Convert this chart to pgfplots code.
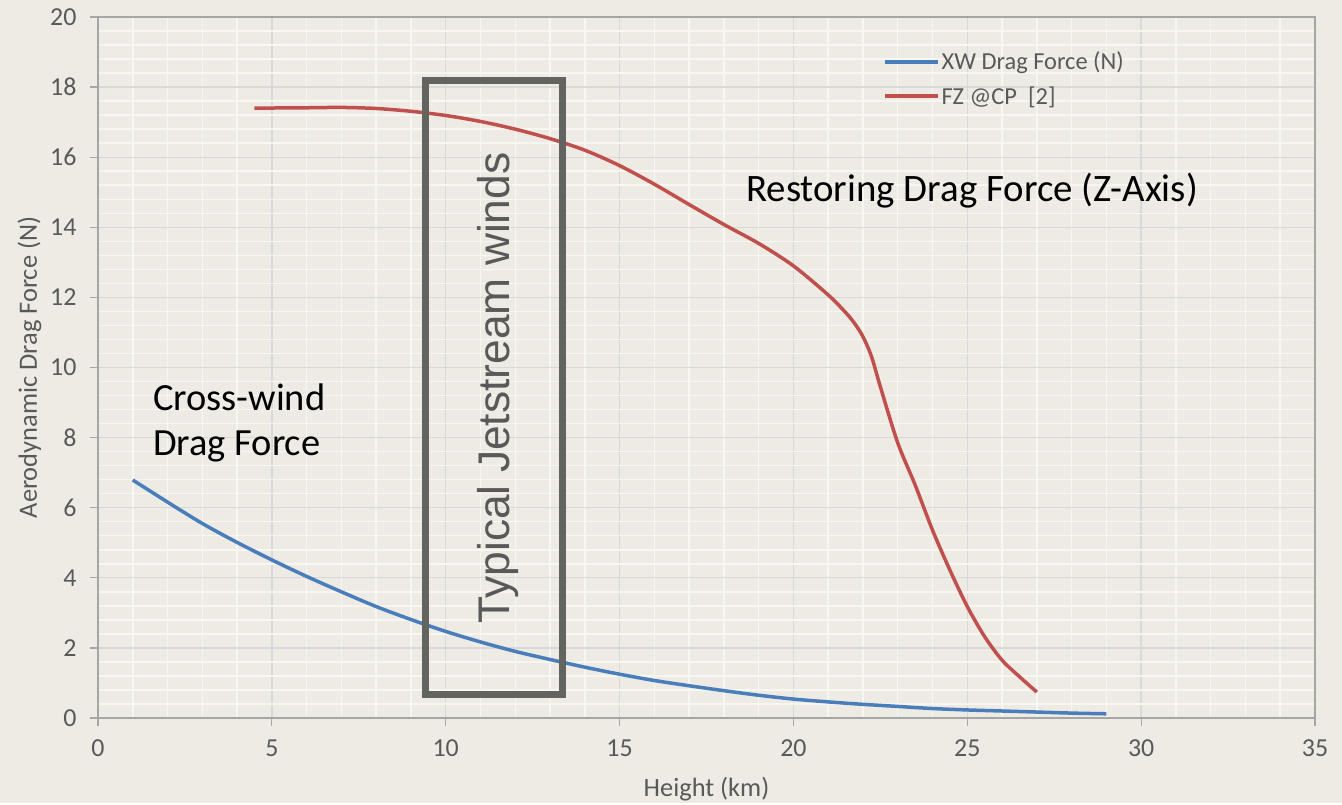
\documentclass[border=0pt]{standalone}
\usepackage{fontspec}
\setmainfont{Carlito}
\newfontfamily\arialf{Liberation Sans}
\usepackage{pgfplots}
\pgfplotsset{compat=1.18}
\definecolor{bgc}{HTML}{EEEBE4}
\definecolor{gridmaj}{HTML}{D9D9D9}
\definecolor{gridmin}{HTML}{F8F6F1}
\definecolor{axisc}{HTML}{A6A6A6}
\definecolor{tickc}{HTML}{595959}
\definecolor{xwblue}{HTML}{4A7EBB}
\definecolor{fzred}{HTML}{C0504D}
\definecolor{boxc}{HTML}{63635F}
\begin{document}
\begin{tikzpicture}
\fill[bgc] (-98bp,-85bp) rectangle (1244bp,718bp);
\begin{axis}[
  scale only axis,
  width=1217bp, height=701bp,
  xmin=0, xmax=35, ymin=0, ymax=20,
  xtick={0,5,...,35}, ytick={0,2,...,20},
  minor x tick num=4, minor y tick num=4,
  grid=both,
  major grid style={color=gridmaj, line width=1.3bp},
  minor grid style={color=gridmin, line width=1.5bp},
  axis line style={color=axisc, line width=1.5bp},
  tick pos=left,
  tick align=outside,
  major tick length=8bp, minor tick length=0pt,
  major tick style={color=axisc, line width=1.2bp},
  ticklabel style={font=\fontsize{26}{30}\selectfont, text=tickc},
  xticklabel style={yshift=-10bp},
  yticklabel style={xshift=-10bp},
  /pgf/number format/assume math mode=true,
  xlabel={Height (km)}, ylabel={Aerodynamic Drag Force (N)},
  label style={font=\fontsize{26.5}{30}\selectfont, text=tickc},
  xlabel style={yshift=-14bp},
  ylabel style={yshift=2bp},
  legend style={at={(0.645,0.953)}, anchor=north west, draw=none, fill=none,
    font=\fontsize{24.5}{29}\selectfont, text=tickc, row sep=11bp, inner sep=0pt},
  legend cell align=left,
  legend image code/.code={\draw[#1] (0bp,0bp) -- (53bp,0bp);},
  axis background/.style={fill=bgc},
]
\addplot[xwblue, line width=3.5bp, smooth] coordinates {
(1,6.79) (2,6.16) (3,5.55) (4,5.01) (5,4.51) (6,4.04) (7,3.6) (8,3.18) (9,2.81) (10,2.47)
(11,2.17) (12,1.9) (13,1.67) (14,1.45) (15,1.25) (16,1.07) (17,0.92) (18,0.78) (19,0.65)
(20,0.54) (21,0.46) (22,0.39) (23,0.33) (24,0.27) (25,0.23) (26,0.2) (27,0.17) (28,0.14) (29,0.12)
};
\addlegendentry{XW Drag Force (N)}
\addplot[fzred, line width=3.5bp, smooth] coordinates {
(4.5,17.4) (6,17.41) (7,17.42) (8,17.39) (9,17.31) (10,17.19) (11,17.02) (12,16.8) (13,16.53)
(14,16.2) (15,15.76) (16,15.23) (17,14.65) (18,14.08) (19,13.54) (20,12.9) (21,12.07)
(21.5,11.57) (21.75,11.27) (22,10.88) (22.25,10.3) (22.5,9.45) (23,7.85) (23.5,6.65) (24,5.36) (24.5,4.22) (25,3.18)
(25.5,2.32) (26,1.65) (26.5,1.18) (27,0.74)
};
\addlegendentry{FZ @CP\ \ [2]}
\draw[boxc, line width=7bp] (axis cs:9.43,0.68) rectangle (axis cs:13.37,18.2);
\node[rotate=90, font=\arialf\fontsize{44.5}{50}\selectfont, text=tickc] at (axis cs:11.5,9.42) {Typical Jetstream winds};
\node[anchor=west, align=left, font=\fontsize{38.6}{45}\selectfont, inner sep=0pt] at (axis cs:1.58,8.42) {Cross-wind\\Drag Force};
\node[anchor=west, font=\fontsize{39}{45}\selectfont, inner sep=0pt] at (axis cs:18.64,15.06) {Restoring Drag Force (Z-Axis)};
\end{axis}
\end{tikzpicture}
\end{document}
